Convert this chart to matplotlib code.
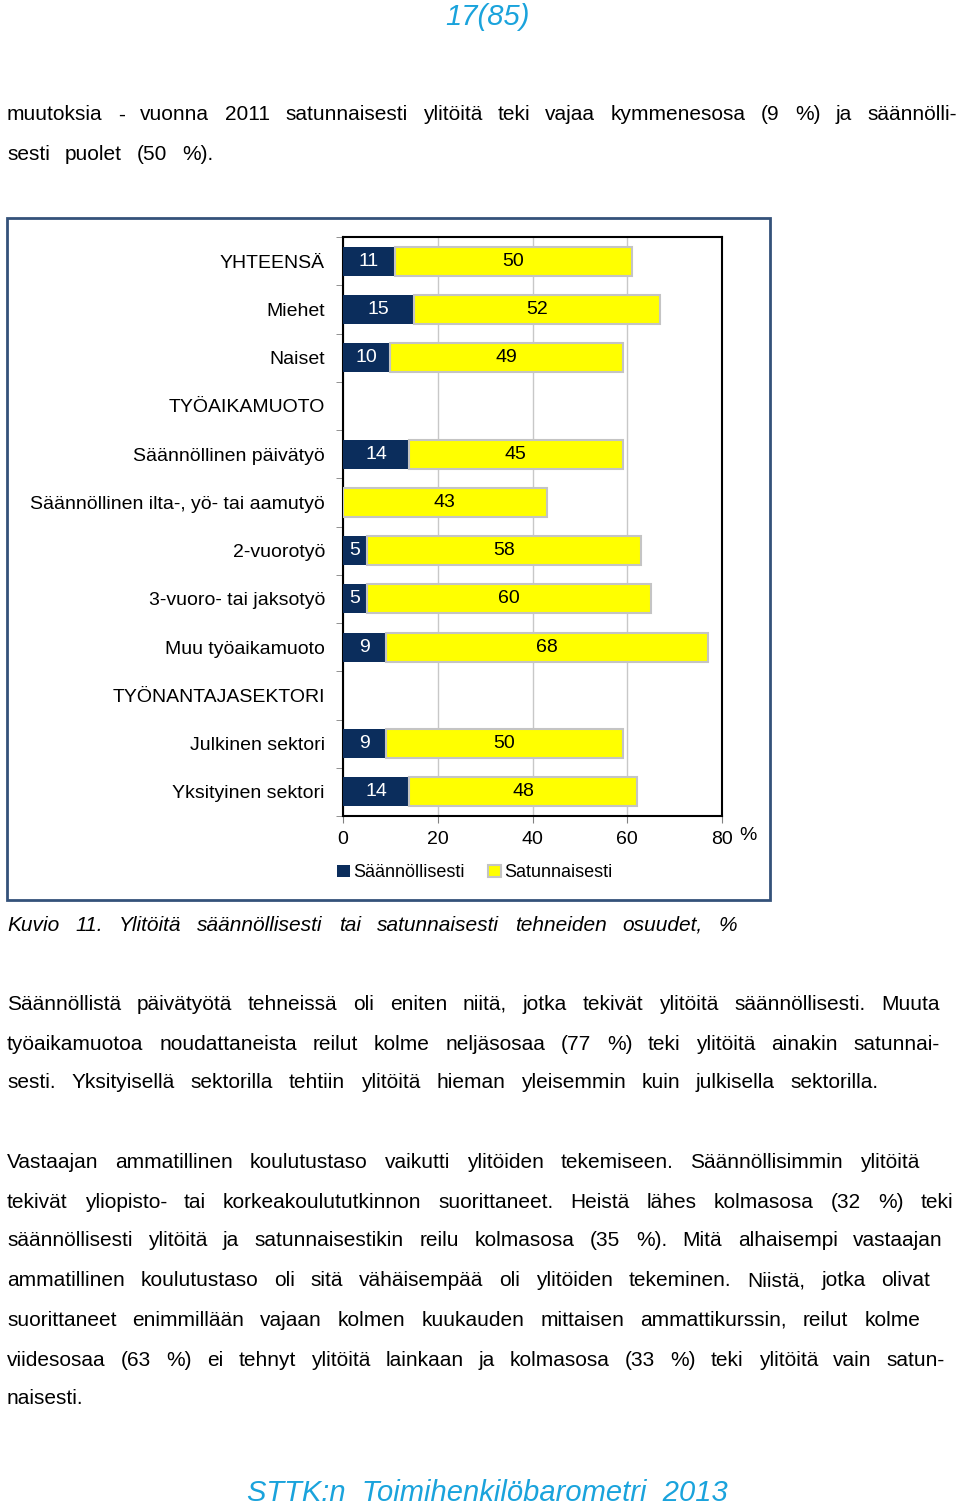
import matplotlib
matplotlib.use('Agg')
import matplotlib.pyplot as plt
from matplotlib.patches import Rectangle
import numpy as np

W, H = 960, 1509
plt.rcParams['font.family'] = ['Liberation Sans', 'DejaVu Sans']

# Data
categories = ['YHTEENSÄ', 'Miehet', 'Naiset', 'TYÖAIKAMUOTO', 'Säännöllinen päivätyö',
              'Säännöllinen ilta-, yö- tai aamutyö', '2-vuorotyö', '3-vuoro- tai jaksotyö',
              'Muu työaikamuoto', 'TYÖNANTAJASEKTORI', 'Julkinen sektori', 'Yksityinen sektori']
saannollisesti = [11, 15, 10, np.nan, 14, 0, 5, 5, 9, np.nan, 9, 14]
satunnaisesti = [50, 52, 49, np.nan, 45, 43, 58, 60, 68, np.nan, 50, 48]
x_ticks = [0, 20, 40, 60, 80]
series_names = ['Säännöllisesti', 'Satunnaisesti']

page_no = '17(85)'
footer = 'STTK:n  Toimihenkilöbarometri  2013'
caption = 'Kuvio 11. Ylitöitä säännöllisesti tai satunnaisesti tehneiden osuudet, %'

# (teksti, y, oikea reuna)
para1 = [
    ('muutoksia - vuonna 2011 satunnaisesti ylitöitä teki vajaa kymmenesosa (9 %) ja säännölli-', 113, 957),
    ('sesti puolet (50 %).', 153, 213),
]
para2 = [
    ('Säännöllistä päivätyötä tehneissä oli eniten niitä, jotka tekivät ylitöitä säännöllisesti. Muuta', 1002, 940),
    ('työaikamuotoa noudattaneista reilut kolme neljäsosaa (77 %) teki ylitöitä ainakin satunnai-', 1042, 940),
    ('sesti. Yksityisellä sektorilla tehtiin ylitöitä hieman yleisemmin kuin julkisella sektorilla.', 1081, 879),
]
para3 = [
    ('Vastaajan ammatillinen koulutustaso vaikutti ylitöiden tekemiseen. Säännöllisimmin ylitöitä', 1160, 919),
    ('tekivät yliopisto- tai korkeakoulututkinnon suorittaneet. Heistä lähes kolmasosa (32 %) teki', 1200, 953),
    ('säännöllisesti ylitöitä ja satunnaisestikin reilu kolmasosa (35 %). Mitä alhaisempi vastaajan', 1239, 943),
    ('ammatillinen koulutustaso oli sitä vähäisempää oli ylitöiden tekeminen. Niistä, jotka olivat', 1279, 930),
    ('suorittaneet enimmillään vajaan kolmen kuukauden mittaisen ammattikurssin, reilut kolme', 1318, 920),
    ('viidesosaa (63 %) ei tehnyt ylitöitä lainkaan ja kolmasosa (33 %) teki ylitöitä vain satun-', 1358, 945),
    ('naisesti.', 1397, 86),
]

NAVY = '#0B2D5C'
YELLOW = '#FFFF00'
CYAN = '#1AA3DC'

fig = plt.figure(figsize=(W / 100, H / 100), dpi=100)
renderer = fig.canvas.get_renderer()


def fx(x):
    return x / W


def fy(y):
    return 1 - y / H


def put_line(text, y, x0, x1, size=15, style='normal', color='black'):
    # tasattu rivi: sanojen valit venytetaan x0..x1
    words = text.split()
    arts = [fig.text(0, fy(y + 2), w, fontsize=size, style=style, color=color, va='center')
            for w in words]
    widths = [a.get_window_extent(renderer=renderer).width for a in arts]
    gap = (x1 - x0 - sum(widths)) / max(len(words) - 1, 1)
    x = x0
    for a, w in zip(arts, widths):
        a.set_x(fx(x))
        x += w + gap


for line in para1 + para2 + para3:
    put_line(line[0], line[1], 7, line[2])

put_line(caption, 923, 7, 737, style='italic')

fig.text(fx(487), fy(17), page_no, fontsize=21, style='italic', color=CYAN, ha='center', va='center')
fig.text(fx(487), fy(1493), footer, fontsize=21, style='italic', color=CYAN, ha='center', va='center')

# kaavion kehys
fig.patches.append(Rectangle((fx(7), fy(900)), (770 - 7) / W, (900 - 218) / H,
                             transform=fig.transFigure, fill=False,
                             edgecolor='#34527A', linewidth=2))

# Kaavio
ax = fig.add_axes([fx(343), fy(816), (722 - 343) / W, (816 - 237) / H])
y = np.arange(len(categories))
s1 = np.array(saannollisesti, dtype=float)
s2 = np.array(satunnaisesti, dtype=float)

b1 = ax.barh(y, s1, height=0.6, color=NAVY, label=series_names[0], zorder=3)
b2 = ax.barh(y, s2, left=np.nan_to_num(s1), height=0.6, color=YELLOW,
             edgecolor='#C4C4C4', linewidth=1.5, label=series_names[1], zorder=3)

lab1 = ['' if (np.isnan(v) or v == 0) else f'{v:.0f}' for v in s1]
lab2 = ['' if np.isnan(v) else f'{v:.0f}' for v in s2]
ax.bar_label(b1, labels=lab1, label_type='center', color='white', fontsize=14)
ax.bar_label(b2, labels=lab2, label_type='center', color='black', fontsize=14)

ax.set_xlim(0, 80)
ax.set_ylim(len(categories) - 0.5, -0.5)
ax.set_xticks(x_ticks)
ax.set_xticklabels([str(t) for t in x_ticks], fontsize=14)
ax.set_yticks(y)
ax.set_yticklabels(categories, fontsize=14)
ax.set_yticks(np.arange(len(categories) + 1) - 0.5, minor=True)
ax.tick_params(axis='y', which='major', length=0, pad=13)
ax.tick_params(axis='y', which='minor', length=5, color='#808080', direction='out')
ax.tick_params(axis='x', length=5, color='#808080', pad=6)
ax.grid(axis='x', color='#C8C8C8', linewidth=1, zorder=0)
for sp in ax.spines.values():
    sp.set_color('black')
    sp.set_linewidth(1.5)

fig.text(fx(748), fy(836), '%', fontsize=14, ha='center', va='center')

fig.legend(handles=[b1, b2], loc='center left', bbox_to_anchor=(fx(337), fy(873)),
           ncol=2, frameon=False, fontsize=13, handlelength=0.7, handleheight=0.7,
           handletextpad=0.2, columnspacing=1.3, borderpad=0, borderaxespad=0)

fig.savefig('out.png', dpi=100)
